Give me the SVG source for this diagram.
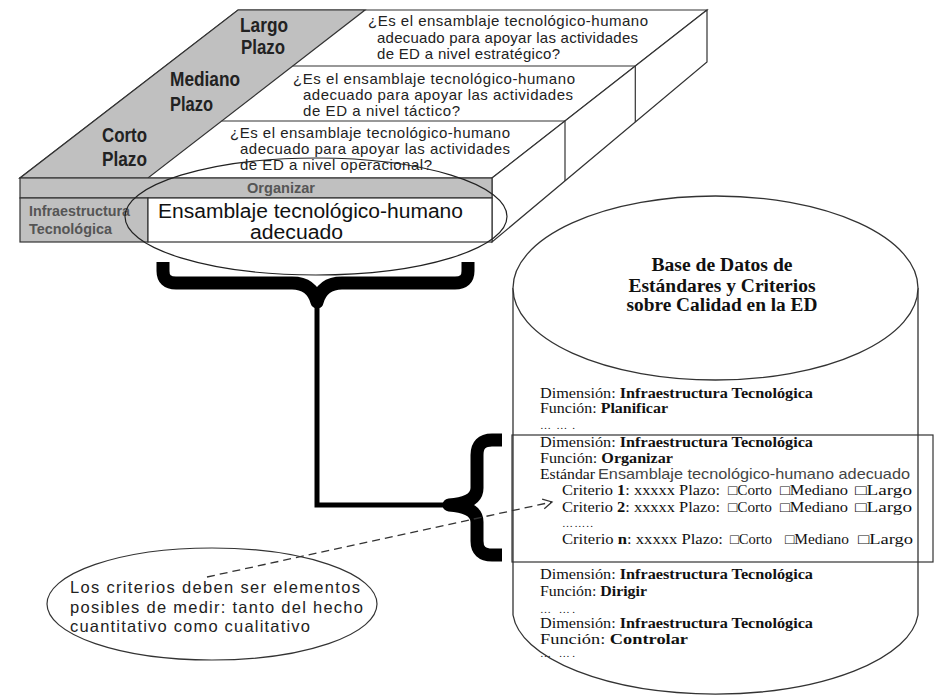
<svg xmlns="http://www.w3.org/2000/svg" width="941" height="697" viewBox="0 0 941 697">
<defs>
<style>
.edge{fill:none;stroke:#333;stroke-width:1.2}
.gray{fill:#c0c0c0;stroke:#333;stroke-width:1.2}
.white{fill:#fff;stroke:#333;stroke-width:1.2}
.nar{font-family:"Liberation Sans Narrow","Liberation Sans",Arial,sans-serif;font-weight:bold}
.lab{font-size:20px;fill:#222}
.hdr{font-size:15px;fill:#555}
.q{font-family:"Liberation Sans",Arial,sans-serif;font-size:15px;fill:#222}
.big{font-family:"Liberation Sans",Arial,sans-serif;font-size:20px;fill:#111}
.ser{font-family:"Liberation Serif","Times New Roman",serif;font-size:14px;fill:#111}
.dots{font-family:"Liberation Serif","Times New Roman",serif;font-size:11px;fill:#111}
.ttl{font-family:"Liberation Serif","Times New Roman",serif;font-size:18.5px;font-weight:bold;fill:#111;text-anchor:middle}
.sans{font-family:"Liberation Sans",Arial,sans-serif;font-size:14.5px;fill:#444}
.note{font-family:"Liberation Sans",Arial,sans-serif;font-size:16.5px;fill:#222}
.brace{fill:none;stroke:#000;stroke-width:13;stroke-linejoin:round}
</style>
<marker id="open" markerWidth="12" markerHeight="12" refX="10" refY="6" orient="auto" markerUnits="userSpaceOnUse">
<polyline points="1,1 10,6 1,11" fill="none" stroke="#333" stroke-width="1.3"/>
</marker>
</defs>
<rect width="941" height="697" fill="#fff"/>

<g id="box3d">
<polygon class="white" points="20,178 492,178 707,10 238,10"/>
<polygon class="gray" points="20,178 148,178 365,10 238,10"/>
<polygon class="white" points="492,178 707,10 707,62 492,242"/>
<line class="edge" x1="292.7" y1="66" x2="635.3" y2="66"/>
<line class="edge" x1="221.6" y1="121" x2="565" y2="121"/>
<line class="edge" x1="635.3" y1="66" x2="635.3" y2="122"/>
<line class="edge" x1="565" y1="121" x2="565" y2="181"/>
<rect class="gray" x="20" y="178" width="472" height="20"/>
<rect class="gray" x="20" y="198" width="128" height="44"/>
<rect class="white" x="148" y="198" width="344" height="44"/>
<text class="nar lab" x="240" y="32" textLength="48" lengthAdjust="spacingAndGlyphs">Largo</text>
<text class="nar lab" x="241" y="54" textLength="44" lengthAdjust="spacingAndGlyphs">Plazo</text>
<text class="nar lab" x="170" y="86" textLength="70" lengthAdjust="spacingAndGlyphs">Mediano</text>
<text class="nar lab" x="170" y="111" textLength="43" lengthAdjust="spacingAndGlyphs">Plazo</text>
<text class="nar lab" x="102" y="142" textLength="45" lengthAdjust="spacingAndGlyphs">Corto</text>
<text class="nar lab" x="102" y="166" textLength="45" lengthAdjust="spacingAndGlyphs">Plazo</text>
<text class="q" x="368" y="26" textLength="280" lengthAdjust="spacing">¿Es el ensamblaje tecnológico-humano</text>
<text class="q" x="377" y="43" textLength="261" lengthAdjust="spacing">adecuado para apoyar las actividades</text>
<text class="q" x="377" y="59" textLength="183" lengthAdjust="spacing">de ED a nivel estratégico?</text>
<text class="q" x="293" y="84" textLength="282" lengthAdjust="spacing">¿Es el ensamblaje tecnológico-humano</text>
<text class="q" x="303" y="100" textLength="270" lengthAdjust="spacing">adecuado para apoyar las actividades</text>
<text class="q" x="303" y="116" textLength="157" lengthAdjust="spacing">de ED a nivel táctico?</text>
<text class="q" x="230" y="138" textLength="280" lengthAdjust="spacing">¿Es el ensamblaje tecnológico-humano</text>
<text class="q" x="240" y="154" textLength="270" lengthAdjust="spacing">adecuado para apoyar las actividades</text>
<text class="q" x="240" y="170" textLength="192" lengthAdjust="spacing">de ED a nivel operacional?</text>
<text class="nar hdr" x="247" y="193" textLength="68" lengthAdjust="spacingAndGlyphs">Organizar</text>
<text class="nar hdr" x="29" y="216" textLength="101" lengthAdjust="spacingAndGlyphs">Infraestructura</text>
<text class="nar hdr" x="29" y="234" textLength="83" lengthAdjust="spacingAndGlyphs">Tecnológica</text>
<text class="big" x="158" y="218" textLength="305" lengthAdjust="spacingAndGlyphs">Ensamblaje tecnológico-humano</text>
<text class="big" x="250" y="239" textLength="93" lengthAdjust="spacingAndGlyphs">adecuado</text>
</g>

<g id="highlight">
<ellipse cx="316" cy="216.5" rx="191" ry="58.5" fill="none" stroke="#222" stroke-width="1.2"/>
</g>

<g id="database">
<path d="M513,288 V615 A203,85 0 0 0 918,615 V288" fill="#fff" stroke="#333" stroke-width="1.3"/>
<ellipse cx="715.5" cy="288" rx="202.5" ry="92" fill="#fff" stroke="#333" stroke-width="1.3"/>
<text class="ttl" x="722" y="271" textLength="141" lengthAdjust="spacingAndGlyphs">Base de Datos de</text>
<text class="ttl" x="722" y="292" textLength="187" lengthAdjust="spacingAndGlyphs">Estándares y Criterios</text>
<text class="ttl" x="722" y="311" textLength="191" lengthAdjust="spacingAndGlyphs">sobre Calidad en la ED</text>
<text class="ser" x="540" y="398" textLength="273" lengthAdjust="spacingAndGlyphs">Dimensión: <tspan font-weight="bold">Infraestructura Tecnológica</tspan></text>
<text class="ser" x="540" y="413" textLength="128" lengthAdjust="spacingAndGlyphs">Función: <tspan font-weight="bold">Planificar</tspan></text>
<text class="dots" x="540" y="429" textLength="35" lengthAdjust="spacing">…….</text>
<rect x="512" y="435" width="421" height="127" fill="none" stroke="#333" stroke-width="1.2"/>
<text class="ser" x="540" y="447" textLength="273" lengthAdjust="spacingAndGlyphs">Dimensión: <tspan font-weight="bold">Infraestructura Tecnológica</tspan></text>
<text class="ser" x="540" y="463" textLength="133" lengthAdjust="spacingAndGlyphs">Función: <tspan font-weight="bold">Organizar</tspan></text>
<text class="ser" x="540" y="479" textLength="55" lengthAdjust="spacingAndGlyphs">Estándar</text>
<text class="sans" x="598" y="479" textLength="312" lengthAdjust="spacingAndGlyphs">Ensamblaje tecnológico-humano adecuado</text>
<text class="ser" x="562" y="495" textLength="158" lengthAdjust="spacingAndGlyphs">Criterio <tspan font-weight="bold">1</tspan>: xxxxx Plazo:</text>
<text class="ser" x="728" y="495" textLength="44" lengthAdjust="spacingAndGlyphs">□Corto</text>
<text class="ser" x="780" y="495" textLength="68" lengthAdjust="spacingAndGlyphs">□Mediano</text>
<text class="ser" x="855" y="495" textLength="57" lengthAdjust="spacingAndGlyphs">□Largo</text>
<text class="ser" x="562" y="512" textLength="158" lengthAdjust="spacingAndGlyphs">Criterio <tspan font-weight="bold">2</tspan>: xxxxx Plazo:</text>
<text class="ser" x="728" y="512" textLength="44" lengthAdjust="spacingAndGlyphs">□Corto</text>
<text class="ser" x="780" y="512" textLength="68" lengthAdjust="spacingAndGlyphs">□Mediano</text>
<text class="ser" x="855" y="512" textLength="57" lengthAdjust="spacingAndGlyphs">□Largo</text>
<text class="dots" x="562" y="527" textLength="31" lengthAdjust="spacing">……..</text>
<text class="ser" x="562" y="544" textLength="161" lengthAdjust="spacingAndGlyphs">Criterio <tspan font-weight="bold">n</tspan>: xxxxx Plazo:</text>
<text class="ser" x="730" y="544" textLength="42" lengthAdjust="spacingAndGlyphs">□Corto</text>
<text class="ser" x="785" y="544" textLength="64" lengthAdjust="spacingAndGlyphs">□Mediano</text>
<text class="ser" x="858" y="544" textLength="55" lengthAdjust="spacingAndGlyphs">□Largo</text>
<text class="ser" x="540" y="579" textLength="273" lengthAdjust="spacingAndGlyphs">Dimensión: <tspan font-weight="bold">Infraestructura Tecnológica</tspan></text>
<text class="ser" x="540" y="596" textLength="107" lengthAdjust="spacingAndGlyphs">Función: <tspan font-weight="bold">Dirigir</tspan></text>
<text class="dots" x="540" y="613" textLength="35" lengthAdjust="spacing">… ….</text>
<text class="ser" x="540" y="628" textLength="273" lengthAdjust="spacingAndGlyphs">Dimensión: <tspan font-weight="bold">Infraestructura Tecnológica</tspan></text>
<text class="ser" x="540" y="644" textLength="148" lengthAdjust="spacingAndGlyphs">Función: <tspan font-weight="bold">Controlar</tspan></text>
<text class="dots" x="540" y="657" textLength="35" lengthAdjust="spacing">… ….</text>
</g>

<g id="note">
<ellipse cx="212" cy="604" rx="165" ry="56" fill="#fff" stroke="#333" stroke-width="1.2"/>
<text class="note" x="70" y="593" textLength="290" lengthAdjust="spacing">Los criterios deben ser elementos</text>
<text class="note" x="70" y="613" textLength="293" lengthAdjust="spacing">posibles de medir: tanto del hecho</text>
<text class="note" x="70" y="632" textLength="240" lengthAdjust="spacing">cuantitativo como cualitativo</text>
</g>

<g id="connectors">
<path class="brace" d="M163,262 V271 Q163,283 176,283 H292 Q312,283 317,302 Q322,283 342,283 H455 Q468,283 468,271 V262"/>
<polyline points="317,298 317,505 444,505" fill="none" stroke="#000" stroke-width="5"/>
<path class="brace" d="M502,440 H492 Q477,440 477,455 V488 Q477,503 449,505 Q477,507 477,522 V541 Q477,555 492,555 H502"/>
<line x1="207" y1="577" x2="552" y2="502" stroke="#333" stroke-width="1.3" stroke-dasharray="8 5" marker-end="url(#open)"/>
</g>
</svg>
